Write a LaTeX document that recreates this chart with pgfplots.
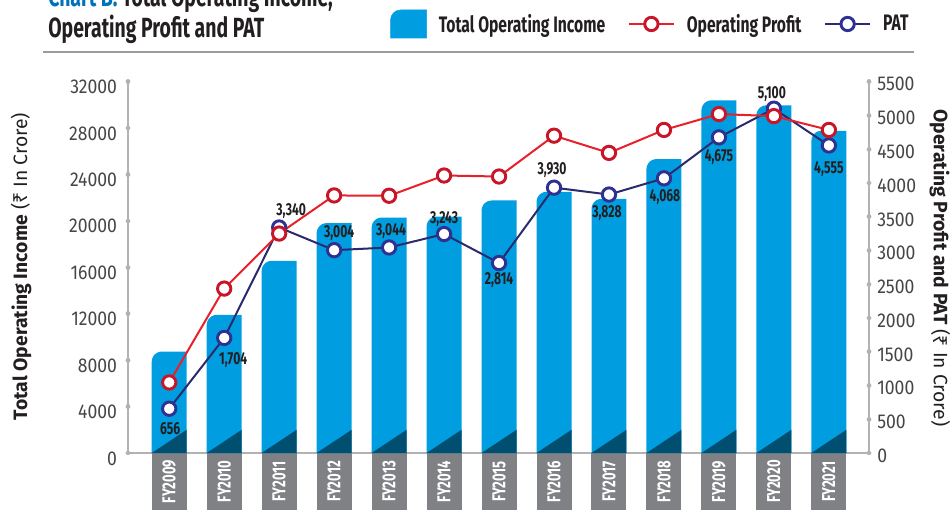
\documentclass[border=0pt]{standalone}
\usepackage{pgfplots}
\pgfplotsset{compat=1.18}
\usepackage{pgfplotstable}
\usepackage{fontspec}
\setmainfont{Fira Sans}
\newfontfamily\cond[FakeStretch=0.7]{Fira Sans}
\newfontfamily\tickf[FakeStretch=0.88]{Fira Sans}
\newfontfamily\axf{Noto Sans}

\definecolor{barblue}{RGB}{0,158,224}
\definecolor{bardark}{RGB}{0,78,112}
\definecolor{opred}{RGB}{232,32,42}
\definecolor{opredm}{RGB}{200,22,40}
\definecolor{patline}{RGB}{43,42,110}
\definecolor{patmark}{RGB}{46,49,146}
\definecolor{axgray}{RGB}{178,178,180}
\definecolor{rulegray}{RGB}{156,156,158}
\definecolor{boxgray}{RGB}{128,129,132}
\definecolor{txt}{RGB}{35,31,32}
\definecolor{tickc}{RGB}{70,70,72}
\definecolor{titleblue}{RGB}{0,114,188}

\pgfplotstableread{
x lab inc op pat dx dy
0  656   8740  1045 656  0.75 -15
1  1,704 11900 2435 1704 6.75 -16.5
2  3,340 16560 3250 3340 9 12
3  3,004 19810 3815 3004 3.75 12.75
4  3,044 20290 3810 3044 1.5 12
5  3,243 20380 4110 3243 0 11.25
6  2,814 21760 4095 2814 0 -12.75
7  3,930 22510 4700 3930 -1.5 13.5
8  3,828 21900 4445 3828 -1.5 -14.25
9  4,068 25330 4785 4068 0.75 -14.25
10 4,675 30390 5020 4675 0 -15
11 5,100 29960 4990 5100 -1.5 11.25
12 4,555 27770 4785 4555 0 -18
}\data

\begin{document}
\begin{tikzpicture}
\useasboundingbox (0pt,0pt) rectangle (714pt,382.5pt);
\pgfplotsset{
  common/.style={
    at={(96pt,42.75pt)}, anchor=south west,
    scale only axis, width=555.75pt, height=278.5pt,
    xmin=-0.75, xmax=12.73,
    axis line style={axgray, line width=1.5pt, -},
    major tick length=0.01pt,
    ytick style={axgray, line width=3.6pt, line cap=round},
    xtick style={draw=none},
    scaled y ticks=false,
    /pgf/number format/1000 sep={},
    /pgf/number format/assume math mode=true,
  }
}
\begin{axis}[common,
  ymin=0, ymax=32000,
  axis y line*=left, axis x line*=bottom,
  ytick={0,4000,...,32000},
  yticklabel style={font=\tickf\fontsize{15}{15}\selectfont, text=tickc, anchor=east, inner sep=0pt, xshift=-8pt, yshift=-4pt},
  xtick={0,...,12},
  xticklabels={FY2009,FY2010,FY2011,FY2012,FY2013,FY2014,FY2015,FY2016,FY2017,FY2018,FY2019,FY2020,FY2021},
  xticklabel style={rotate=90, anchor=east, fill=boxgray, text=white,
    minimum width=42.75pt, minimum height=26.25pt, inner sep=0pt, outer sep=0pt,
    font=\cond\bfseries\fontsize{14}{14}\selectfont},
]
% bars: value from the table, top-left corner rounded (radius 7.5pt)
\pgfplotsinvokeforeach{0,...,12}{
  \pgfplotstablegetelem{#1}{inc}\of\data
  \edef\tmpbar{\noexpand\addplot[fill=barblue, draw=none] coordinates {
    (#1-0.318,0)
    (#1-0.318,\pgfplotsretval-862)
    (#1-0.3118,\pgfplotsretval-639)
    (#1-0.2936,\pgfplotsretval-431)
    (#1-0.2647,\pgfplotsretval-253)
    (#1-0.2270,\pgfplotsretval-116)
    (#1-0.1832,\pgfplotsretval-29)
    (#1-0.1361,\pgfplotsretval)
    (#1+0.318,\pgfplotsretval)} \noexpand\closedcycle;}
  \tmpbar
}
\pgfplotsinvokeforeach{0,...,12}{
  \addplot[fill=bardark, draw=none] coordinates {(#1-0.318,0) (#1+0.318,2000)} \closedcycle;
}
\end{axis}
\begin{axis}[common, clip=false,
  ymin=0, ymax=5500,
  axis y line*=right, axis x line=none,
  ytick={0,500,...,5500},
  yticklabel style={font=\tickf\fontsize{15}{15}\selectfont, text=tickc, anchor=west, inner sep=0pt, xshift=6pt, yshift=-2pt},
  legend columns=-1,
  legend style={draw=none, fill=none, at={(0.3536,1.1553)}, anchor=west, inner sep=0pt,
    font=\cond\bfseries\fontsize{16.8}{16.8}\selectfont, text=txt,
    nodes={inner xsep=0pt},
    /tikz/every even column/.append style={column sep=17pt},
    /tikz/every odd column/.append style={column sep=9pt}},
]
\addplot[patline, line width=1.5pt, mark=*, mark size=5pt,
  mark options={draw=patmark, fill=white, line width=2.2pt, solid}, forget plot] table[x=x,y=pat]{\data};
\addplot[opred, line width=1.5pt, mark=*, mark size=5pt,
  mark options={draw=opredm, fill=white, line width=2.2pt, solid}, forget plot] table[x=x,y=op]{\data};
\addplot[draw=none, mark=none, forget plot, nodes near coords, point meta=explicit symbolic,
  visualization depends on={\thisrow{dx} \as \lbdx},
  visualization depends on={\thisrow{dy} \as \lbdy},
  nodes near coords style={anchor=center, inner sep=0pt, xshift=\lbdx pt, yshift=\lbdy pt,
    font=\cond\bfseries\fontsize{13}{13}\selectfont, text=txt}]
  table[x=x,y=pat,meta=lab]{\data};
\addlegendimage{legend image code/.code={
  \fill[barblue] (0pt,-10.5pt) -- (0pt,3pt) arc[start angle=180, end angle=90, radius=7.5pt]
    -- (27pt,10.5pt) -- (27pt,-10.5pt) -- cycle;
}}
\addlegendentry{Total Operating Income}
\addlegendimage{legend image code/.code={
  \draw[opred, line width=1.5pt] (0pt,0pt) -- (33.75pt,0pt);
  \draw[opredm, line width=2.2pt, fill=white] (16.875pt,0pt) circle (5pt);
}}
\addlegendentry{Operating Profit}
\addlegendimage{legend image code/.code={
  \draw[patline, line width=1.5pt] (0pt,0pt) -- (33.75pt,0pt);
  \draw[patmark, line width=2.2pt, fill=white] (16.875pt,0pt) circle (5pt);
}}
\addlegendentry{PAT}
\end{axis}
% titles
\node[anchor=base west, inner sep=0pt, font=\cond\bfseries\fontsize{20.8}{20.8}\selectfont, text=txt]
  at (36pt,377.5pt) {\textcolor{titleblue}{Chart B:} Total Operating Income,};
\node[anchor=base west, inner sep=0pt, font=\cond\bfseries\fontsize{20.8}{20.8}\selectfont, text=txt]
  at (36pt,354pt) {Operating Profit and PAT};
\draw[rulegray, line width=1.5pt] (32.25pt,343.5pt) -- (685.5pt,343.5pt);
% axis titles
\node[rotate=90, inner sep=0pt, font=\fontsize{14.5}{14.5}\selectfont, text=txt]
  at (15.75pt,182.6pt) {\textbf{Total Operating Income} ({\axf ₹} In Crore)};
\node[rotate=-90, inner sep=0pt, font=\fontsize{14.5}{14.5}\selectfont, text=txt]
  at (705pt,181.5pt) {\textbf{Operating Profit and PAT} ({\axf ₹} In Crore)};
\end{tikzpicture}
\end{document}
